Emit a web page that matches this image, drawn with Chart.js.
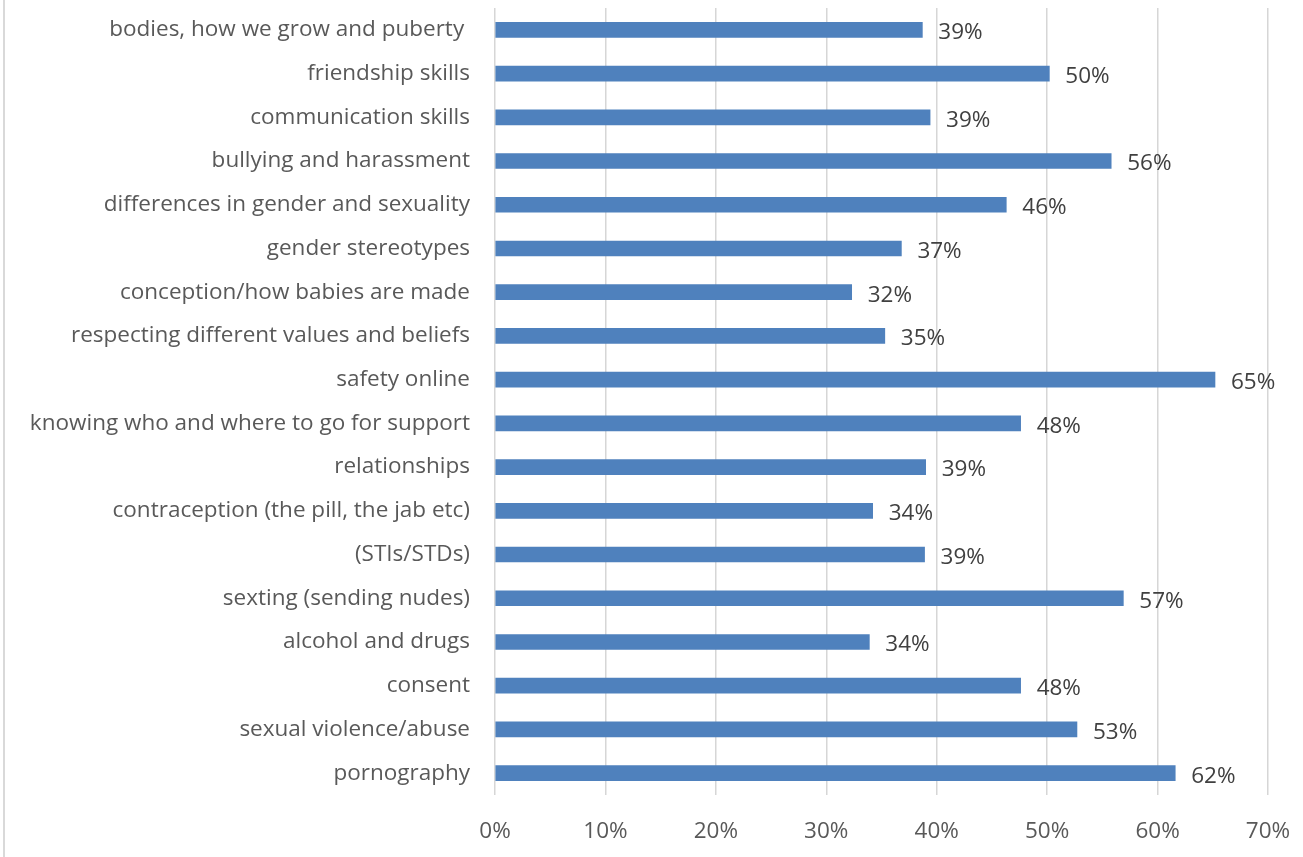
<!DOCTYPE html>
<html>
<head>
<meta charset="utf-8">
<script src="https://cdn.jsdelivr.net/npm/chart.js@4"></script>
<style>
  html, body { margin: 0; padding: 0; background: #ffffff; }
  #wrap { position: relative; width: 1303px; height: 857px; }
  #frame { position: absolute; left: 3px; top: 0; width: 2px; height: 857px; background: #d9d9d9; }
  canvas { position: absolute; left: 0; top: 0; }
</style>
</head>
<body>
<div id="wrap">
  <div id="frame"></div>
  <canvas id="c" width="1303" height="857"></canvas>
</div>
<script>
const categories = [
  "bodies, how we grow and puberty ",
  "friendship skills",
  "communication skills",
  "bullying and harassment",
  "differences in gender and sexuality",
  "gender stereotypes",
  "conception/how babies are made",
  "respecting different values and beliefs",
  "safety online",
  "knowing who and where to go for support",
  "relationships",
  "contraception (the pill, the jab etc)",
  "(STIs/STDs)",
  "sexting (sending nudes)",
  "alcohol and drugs",
  "consent",
  "sexual violence/abuse",
  "pornography"
];
const values = [38.7, 50.2, 39.4, 55.8, 46.3, 36.8, 32.3, 35.3, 65.2, 47.6, 39.0, 34.2, 38.9, 56.9, 33.9, 47.6, 52.7, 61.6];
const tickValues = [0, 10, 20, 30, 40, 50, 60, 70];

const FONT = "'Open Sans', 'Noto Sans', sans-serif";
const FS = 22.5;

const valueLabels = {
  id: 'valueLabels',
  afterDatasetsDraw(chart) {
    const ctx = chart.ctx;
    const meta = chart.getDatasetMeta(0);
    ctx.save();
    ctx.font = FS + "px " + FONT;
    ctx.fillStyle = '#404040';
    ctx.textAlign = 'left';
    ctx.textBaseline = 'middle';
    meta.data.forEach((bar, i) => {
      ctx.fillText(Math.round(values[i]) + '%', bar.x + 16, bar.y + 3);
    });
    ctx.restore();
  }
};

new Chart(document.getElementById('c'), {
  type: 'bar',
  data: {
    labels: categories,
    datasets: [{
      data: values,
      backgroundColor: '#4f81bd',
      borderWidth: 0,
      barThickness: 15
    }]
  },
  options: {
    indexAxis: 'y',
    responsive: false,
    animation: false,
    devicePixelRatio: 1,
    layout: { padding: { left: 0, right: 35, top: 8, bottom: 0 } },
    plugins: { legend: { display: false }, tooltip: { enabled: false } },
    scales: {
      x: {
        min: 0, max: 70,
        afterBuildTicks(scale) { scale.ticks = tickValues.map(v => ({ value: v })); },
        grid: { color: '#d6d6d6', lineWidth: 1.5, drawTicks: false },
        border: { display: false },
        ticks: {
          padding: 23,
          color: '#595959',
          font: { family: FONT, size: FS },
          maxRotation: 0,
          callback: v => v + '%'
        },
        afterFit(scale) {
          scale.height = 62;
          scale.paddingLeft = 0; scale.paddingRight = 0;
          scale.paddingTop = 0; scale.paddingBottom = 0;
        }
      },
      y: {
        grid: { display: false, drawTicks: false },
        border: { display: false },
        ticks: {
          padding: 25,
          color: '#595959',
          font: { family: FONT, size: FS },
          autoSkip: false
        },
        afterFit(scale) {
          scale.width = 495;
          scale.paddingLeft = 0; scale.paddingRight = 0;
          scale.paddingTop = 0; scale.paddingBottom = 0;
        }
      }
    }
  },
  plugins: [valueLabels]
});
</script>
</body>
</html>
